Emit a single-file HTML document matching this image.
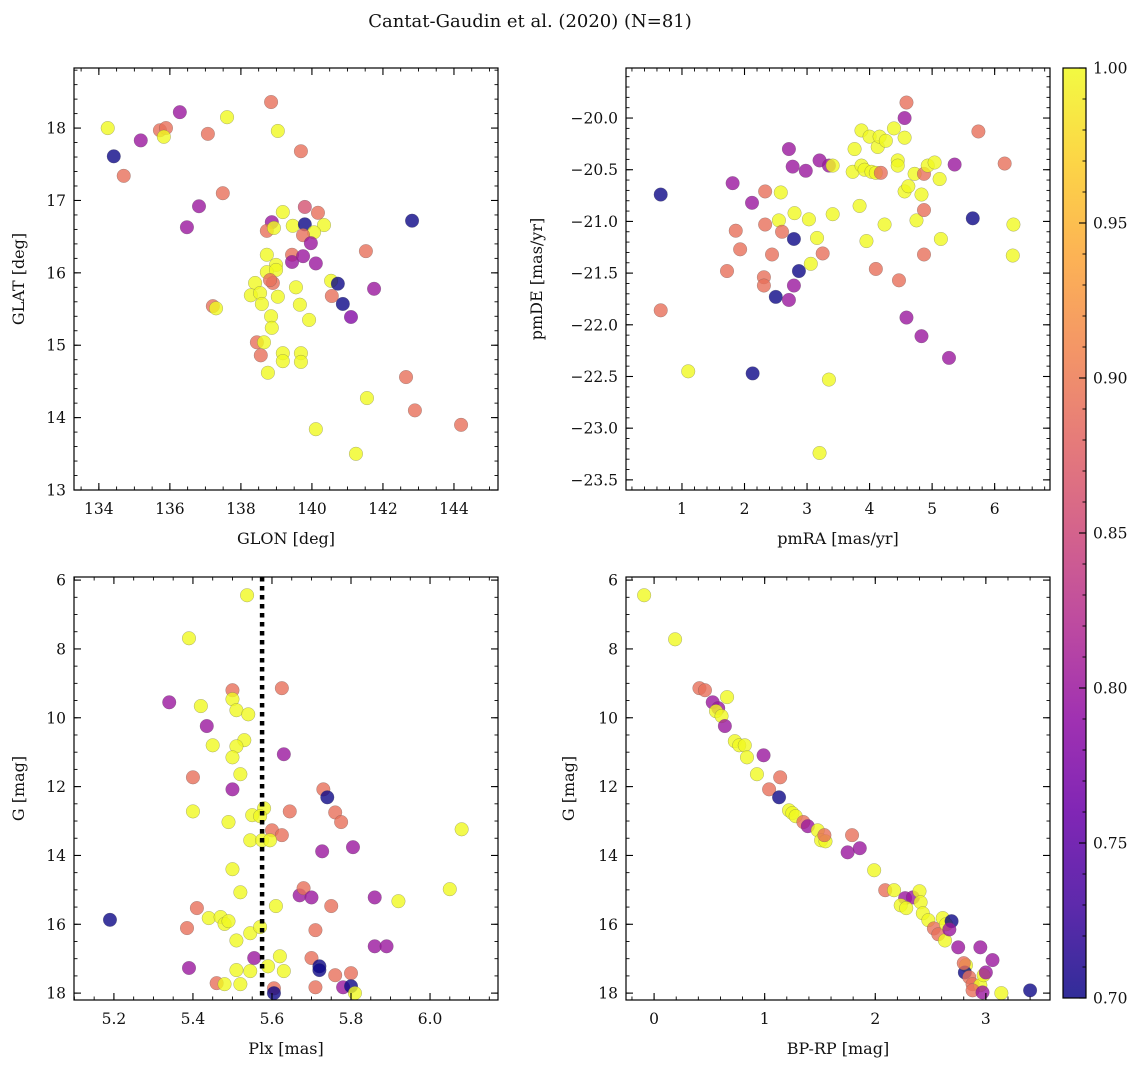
<!DOCTYPE html>
<html><head><meta charset="utf-8">
<style>
html,body{margin:0;padding:0;background:#fff;}
svg{display:block;font-family:"DejaVu Serif","Liberation Serif",serif;}
</style></head>
<body>
<svg id="fig" width="1148" height="1067" viewBox="0 0 1148 1067" xmlns="http://www.w3.org/2000/svg">
<text x="530" y="27" font-size="18" text-anchor="middle" fill="#111">Cantat-Gaudin et al. (2020) (N=81)</text>
<defs>
<linearGradient id="cbgrad" x1="0" y1="1" x2="0" y2="0"></linearGradient>
</defs>
</svg>
<script>
// ---- Panel 1: GLON / GLAT ----
const glon = [134.25,134.42,134.7,135.18,135.72,135.89,135.83,136.28,136.48,136.82,137.07,137.61,137.49,137.21,137.3,138.85,139.04,139.69,
139.18,139.8,140.17,138.87,138.73,138.93,139.46,139.8,140.34,140.06,139.75,139.97,139.44,139.44,139.75,140.11,141.52,138.73,138.99,138.73,138.99,138.9,138.82,138.4,140.54,140.73,140.56,140.87,141.1,141.75,138.28,138.54,138.59,139.04,139.55,139.66,138.85,139.92,138.87,138.45,138.65,138.56,139.18,139.18,139.69,139.69,138.76,
142.82,142.65,142.9,144.2,141.55,140.11,141.24];
const glat = [18.0,17.61,17.34,17.83,17.97,18.0,17.88,18.22,16.63,16.92,17.92,18.15,17.10,15.54,15.51,18.36,17.96,17.68,
16.84,16.91,16.83,16.70,16.58,16.62,16.65,16.67,16.66,16.56,16.52,16.41,16.25,16.15,16.23,16.13,16.30,16.25,16.11,16.01,16.04,15.86,15.90,15.86,15.89,15.85,15.68,15.57,15.39,15.78,15.69,15.72,15.57,15.67,15.80,15.56,15.40,15.35,15.24,15.04,15.04,14.86,14.89,14.78,14.89,14.77,14.62,
16.72,14.56,14.10,13.90,14.27,13.84,13.50];
const prob1 = [1,0.70,0.89,0.80,0.89,0.89,1,0.80,0.80,0.80,0.89,1,0.89,0.89,1,0.89,1,0.89,
1,0.86,0.89,0.80,0.89,1,1,0.70,1,1,0.89,0.80,0.89,0.80,0.80,0.80,0.89,1,1,1,1,0.89,0.89,1,1,0.70,0.89,0.70,0.78,0.80,1,1,1,1,1,1,1,1,1,0.89,1,0.89,1,1,1,1,1,
0.70,0.89,0.89,0.89,1,1,1];
// ---- Panel 2: pmRA / pmDE ----
const pmra = [0.66,0.66,1.10,1.81,1.72,1.86,1.93,2.12,2.13,2.33,2.33,2.31,2.31,2.44,2.50,2.55,2.58,2.60,2.71,2.77,2.79,2.80,2.71,2.79,2.87,2.98,3.03,3.06,3.16,3.20,3.25,3.20,3.35,3.41,3.35,3.41,3.73,3.76,3.84,3.87,3.87,3.92,3.95,4.00,4.03,4.10,4.13,4.16,4.18,4.10,4.24,4.26,4.39,4.45,4.45,4.47,4.56,4.56,4.59,4.56,4.62,4.59,4.72,4.75,4.83,4.87,4.87,4.87,4.83,4.93,5.04,5.12,5.14,5.27,5.36,5.65,5.74,6.16,6.30,6.29];
const pmde = [-20.74,-21.86,-22.45,-20.63,-21.48,-21.09,-21.27,-20.82,-22.47,-20.71,-21.03,-21.54,-21.62,-21.32,-21.73,-20.99,-20.72,-21.10,-20.30,-20.47,-21.17,-20.92,-21.76,-21.62,-21.48,-20.51,-20.98,-21.41,-21.16,-20.41,-21.31,-23.24,-20.46,-20.46,-22.53,-20.93,-20.52,-20.30,-20.85,-20.12,-20.46,-20.50,-21.19,-20.18,-20.52,-20.53,-20.28,-20.18,-20.53,-21.46,-21.03,-20.22,-20.10,-20.41,-20.46,-21.57,-20.19,-20.00,-19.85,-20.71,-20.66,-21.93,-20.54,-20.99,-20.74,-20.54,-20.89,-21.32,-22.11,-20.46,-20.43,-20.59,-21.17,-22.32,-20.45,-20.97,-20.13,-20.44,-21.03,-21.33];
const prob2 = [0.70,0.89,1,0.80,0.89,0.89,0.89,0.80,0.70,0.89,0.89,0.89,0.89,0.89,0.70,1,1,0.89,0.80,0.80,0.70,1,0.80,0.80,0.70,0.80,1,1,1,0.80,0.89,1,0.80,1,1,1,1,1,1,1,1,1,1,1,1,1,1,1,0.89,0.89,1,1,1,1,1,0.89,1,0.80,0.89,1,1,0.80,1,1,1,0.89,0.89,0.89,0.80,1,1,1,1,0.80,0.80,0.70,0.89,0.89,1,1];
// ---- Panel 3: Plx / G ----
const plx = [5.537,5.39,5.34,5.50,5.50,5.42,5.51,5.54,5.625,5.435,5.45,5.53,5.51,5.63,5.50,5.52,5.40,5.40,5.50,5.58,5.73,5.74,5.76,5.775,5.645,5.49,5.55,5.57,5.60,5.625,5.545,5.575,5.595,5.727,5.805,6.08,5.50,5.52,5.67,5.68,5.70,5.75,5.86,5.92,6.05,5.19,5.41,5.44,5.47,5.48,5.49,5.51,5.545,5.61,5.57,5.385,5.71,5.86,5.89,5.39,5.62,5.555,5.70,5.72,5.72,5.51,5.545,5.59,5.63,5.76,5.80,5.46,5.48,5.52,5.605,5.605,5.71,5.78,5.80,5.81];
const gmag3 = [6.44,7.69,9.55,9.20,9.46,9.66,9.78,9.90,9.14,10.24,10.80,10.65,10.83,11.06,11.15,11.64,11.73,12.72,12.08,12.63,12.08,12.31,12.75,13.03,12.72,13.03,12.83,12.86,13.27,13.41,13.56,13.56,13.56,13.88,13.76,13.24,14.40,15.07,15.16,14.95,15.22,15.47,15.22,15.33,14.98,15.87,15.53,15.82,15.79,15.99,15.91,16.47,16.26,15.47,16.08,16.11,16.17,16.64,16.64,17.27,16.93,16.98,16.98,17.22,17.33,17.33,17.36,17.22,17.36,17.48,17.42,17.71,17.74,17.74,17.86,18.0,17.83,17.83,17.80,18.0];
const prob3 = [1,1,0.80,0.89,1,1,1,1,0.89,0.80,1,1,1,0.80,1,1,0.89,1,0.80,1,0.89,0.70,0.89,0.89,0.89,1,1,1,0.89,0.89,1,1,1,0.80,0.80,1,1,1,0.80,0.89,0.80,0.89,0.80,1,1,0.70,0.89,1,1,1,1,1,1,1,1,0.89,0.89,0.80,0.80,0.80,1,0.80,0.89,0.70,0.70,1,1,1,1,0.89,0.89,0.89,1,1,0.89,0.70,0.89,0.80,0.70,1];
// ---- Panel 4: BP-RP / G ----
const bprp = [-0.09,0.19,0.41,0.46,0.53,0.58,0.56,0.61,0.66,0.64,0.73,0.77,0.82,0.84,0.99,0.93,1.04,1.14,1.13,1.22,1.25,1.28,1.35,1.39,1.48,1.51,1.55,1.54,1.75,1.86,1.79,1.99,2.09,2.17,2.27,2.34,2.23,2.28,2.40,2.41,2.43,2.48,2.53,2.57,2.63,2.61,2.64,2.69,2.67,2.75,2.82,2.81,2.85,2.88,2.95,2.95,2.98,3.00,2.88,2.97,3.06,3.14,3.40,2.80];
const gmag4 = [6.44,7.72,9.14,9.20,9.55,9.72,9.81,9.95,9.40,10.24,10.68,10.80,10.80,11.15,11.09,11.64,12.08,11.73,12.31,12.69,12.77,12.86,13.03,13.15,13.27,13.56,13.59,13.41,13.91,13.79,13.41,14.43,15.01,15.01,15.24,15.22,15.45,15.53,15.04,15.36,15.68,15.88,16.12,16.29,16.47,15.82,16.00,15.91,16.15,16.67,17.19,17.40,17.54,17.74,16.67,17.77,17.48,17.40,17.92,17.98,17.04,18.0,17.92,17.13];
const prob4 = [1,1,0.89,0.89,0.80,0.80,1,1,1,0.80,1,1,1,1,0.80,1,0.89,0.89,0.70,1,1,1,0.89,0.80,1,1,1,0.89,0.80,0.80,0.89,1,0.89,1,0.80,0.80,1,1,1,1,1,1,0.89,0.89,1,1,1,0.70,0.80,0.80,1,0.70,0.89,0.89,0.80,1,1,0.80,0.89,0.80,0.80,1,0.70,0.89];
const plxMedian = 5.575;
const cbTicks = [0.70,0.75,0.80,0.85,0.90,0.95,1.00];

const NS = "http://www.w3.org/2000/svg";
const svg = document.getElementById('fig');
function el(tag, attrs, parent){ const e=document.createElementNS(NS,tag); for(const k in attrs) e.setAttribute(k,attrs[k]); (parent||svg).appendChild(e); return e; }

const PL = [[0,'#0d0887'],[0.1,'#41049d'],[0.2,'#6a00a8'],[0.3,'#8f0da4'],[0.4,'#b12a90'],[0.5,'#cc4778'],[0.6,'#e16462'],[0.7,'#f2844b'],[0.8,'#fca636'],[0.9,'#fcce25'],[1,'#f0f921']];
function hx(h){return [parseInt(h.slice(1,3),16),parseInt(h.slice(3,5),16),parseInt(h.slice(5,7),16)];}
function plasma(t){ t=Math.max(0,Math.min(1,t)); for(let i=0;i<PL.length-1;i++){ if(t<=PL[i+1][0]){ const f=(t-PL[i][0])/(PL[i+1][0]-PL[i][0]); const a=hx(PL[i][1]),b=hx(PL[i+1][1]); return 'rgb('+a.map((v,j)=>Math.round(v+(b[j]-v)*f)).join(',')+')'; } } return PL[PL.length-1][1]; }
function pcol(p){ return plasma((p-0.7)/0.3); }

function fmt(v,d){ return v.toFixed(d).replace('-','\u2212'); }

function panel(name, box, xd, yd, xt, yt, xmin, ymin, xdec, ydec, xlab, ylab, ylabX, xs, ys, ps){
  const g = el('g',{});
  
  
  const sx = v => box.l + (v-xd[0])/(xd[1]-xd[0])*(box.r-box.l);
  const sy = v => box.t + (v-yd[0])/(yd[1]-yd[0])*(box.b-box.t);
  // points
  const pg = el('g',{},g);
  
  
  for(let i=0;i<xs.length;i++){
    const c = el('circle',{cx:sx(xs[i]),cy:sy(ys[i]),r:6.8,fill:pcol(ps[i]),'fill-opacity':0.8,stroke:'#555','stroke-width':0.4,'stroke-opacity':0.6},pg);
    
    
  }
  if(name==='plx-g-panel'){
    const ln = el('line',{x1:sx(plxMedian),x2:sx(plxMedian),y1:box.t,y2:box.b,stroke:'#000','stroke-width':4.5,'stroke-dasharray':'4.5,4.5'},g);
    
    
  }
  // frame
  const fr = el('rect',{x:box.l,y:box.t,width:box.r-box.l,height:box.b-box.t,fill:'none',stroke:'#000','stroke-width':1.2},g);
  
  
  // minor ticks
  const lo=Math.min(xd[0],xd[1]), hi=Math.max(xd[0],xd[1]);
  for(let v=Math.ceil(lo/xmin-1e-6)*xmin; v<=hi+1e-9; v+=xmin){ const x=sx(v);
    el('line',{x1:x,x2:x,y1:box.b,y2:box.b-3.5,stroke:'#000','stroke-width':0.9},g);
    el('line',{x1:x,x2:x,y1:box.t,y2:box.t+3.5,stroke:'#000','stroke-width':0.9},g); }
  const ylo=Math.min(yd[0],yd[1]), yhi=Math.max(yd[0],yd[1]);
  for(let v=Math.ceil(ylo/ymin-1e-6)*ymin; v<=yhi+1e-9; v+=ymin){ const y=sy(v);
    el('line',{x1:box.l,x2:box.l+3.5,y1:y,y2:y,stroke:'#000','stroke-width':0.9},g);
    el('line',{x1:box.r,x2:box.r-3.5,y1:y,y2:y,stroke:'#000','stroke-width':0.9},g); }
  // major ticks & labels
  xt.forEach(v=>{ const x=sx(v);
    el('line',{x1:x,x2:x,y1:box.b,y2:box.b-7,stroke:'#000','stroke-width':1.1},g);
    el('line',{x1:x,x2:x,y1:box.t,y2:box.t+7,stroke:'#000','stroke-width':1.1},g);
    const t=el('text',{x:x,y:box.b+24,'font-size':15.5,'text-anchor':'middle',fill:'#111'},g); t.textContent=fmt(v,xdec);
    
    
  });
  yt.forEach(v=>{ const y=sy(v);
    el('line',{x1:box.l,x2:box.l+7,y1:y,y2:y,stroke:'#000','stroke-width':1.1},g);
    el('line',{x1:box.r,x2:box.r-7,y1:y,y2:y,stroke:'#000','stroke-width':1.1},g);
    const t=el('text',{x:box.l-8,y:y+5.5,'font-size':15.5,'text-anchor':'end',fill:'#111'},g); t.textContent=fmt(v,ydec);
    
    
  });
  const xl=el('text',{x:(box.l+box.r)/2,y:box.b+54,'font-size':16,'text-anchor':'middle',fill:'#111'},g); xl.textContent=xlab;
  
  
  const cy=(box.t+box.b)/2;
  const yl=el('text',{x:ylabX,y:cy,'font-size':16,'text-anchor':'middle',fill:'#111',transform:'rotate(-90 '+ylabX+' '+cy+')'},g); yl.textContent=ylab;
  
  
}

panel('glon-glat-panel',{l:74,r:498,t:68,b:490},[133.30,145.24],[18.83,13.0],[134,136,138,140,142,144],[13,14,15,16,17,18],0.5,0.2,0,0,'GLON [deg]','GLAT [deg]',24,glon,glat,prob1);
panel('pm-panel',{l:626,r:1050,t:68,b:490},[0.105,6.885],[-19.516,-23.598],[1,2,3,4,5,6],[-20.0,-20.5,-21.0,-21.5,-22.0,-22.5,-23.0,-23.5],0.2,0.1,0,1,'pmRA [mas/yr]','pmDE [mas/yr]',542,pmra,pmde,prob2);
panel('plx-g-panel',{l:74,r:498,t:577,b:1000},[5.099,6.172],[5.91,18.2],[5.2,5.4,5.6,5.8,6.0],[6,8,10,12,14,16,18],0.05,0.5,1,0,'Plx [mas]','G [mag]',24,plx,gmag3,prob3);
panel('cmd-panel',{l:626,r:1050,t:577,b:1000},[-0.254,3.58],[5.91,18.2],[0,1,2,3],[6,8,10,12,14,16,18],0.2,0.5,0,0,'BP-RP [mag]','G [mag]',574,bprp,gmag4,prob4);

// colorbar
const grad = document.getElementById('cbgrad');
PL.forEach(s=>{ el('stop',{offset:s[0],'stop-color':s[1],'stop-opacity':0.85},grad); });
const cb = {l:1063,r:1086,t:68,b:998};
const cbr = el('rect',{x:cb.l,y:cb.t,width:cb.r-cb.l,height:cb.b-cb.t,fill:'url(#cbgrad)',stroke:'#000','stroke-width':1.2});


const cy = v => cb.b - (v-0.7)/0.3*(cb.b-cb.t);
for(let v=0.70; v<=1.0001; v+=0.01){ el('line',{x1:cb.r,x2:cb.r-3.5,y1:cy(v),y2:cy(v),stroke:'#000','stroke-width':0.9}); }
cbTicks.forEach(v=>{
  el('line',{x1:cb.r,x2:cb.r-7,y1:cy(v),y2:cy(v),stroke:'#000','stroke-width':1.1});
  const t=el('text',{x:cb.r+7,y:cy(v)+5.5,'font-size':15.5,fill:'#111'}); t.textContent=v.toFixed(2);
  
  
});
</script>
</body></html>
